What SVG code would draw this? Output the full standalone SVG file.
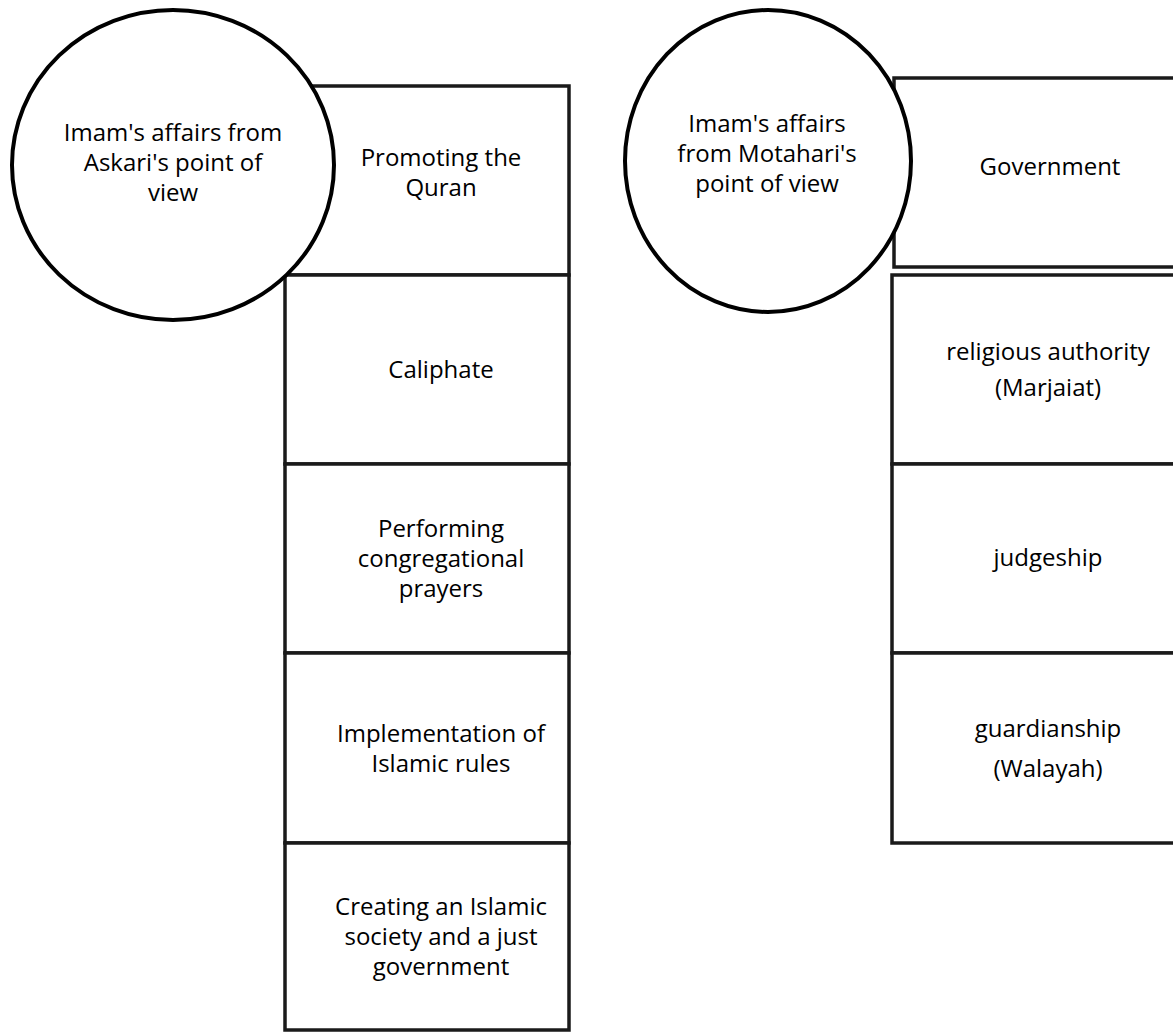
<svg xmlns="http://www.w3.org/2000/svg" width="1173" height="1032" viewBox="0 0 1173 1032">
<style>
.box{fill:#fff;stroke:#1a1a1a;stroke-width:3.5}
.circ{fill:#fff;stroke:#000;stroke-width:4}
text{font-family:"Open Sans","Noto Sans","Liberation Sans",sans-serif;font-size:24px;fill:#000;text-anchor:middle}
</style>
<rect width="1173" height="1032" fill="#fff"/>
<g id="connectors"></g>
<g id="promoting">
<rect class="box" x="285" y="86" width="284" height="189"/>
<text x="441" y="166">Promoting the</text>
<text x="441" y="196">Quran</text>
</g>
<g id="caliphate">
<rect class="box" x="285" y="275" width="284" height="189"/>
<text x="441" y="378">Caliphate</text>
</g>
<g id="prayers">
<rect class="box" x="285" y="464" width="284" height="189"/>
<text x="441" y="537">Performing</text>
<text x="441" y="567">congregational</text>
<text x="441" y="597">prayers</text>
</g>
<g id="implementation">
<rect class="box" x="285" y="653" width="284" height="190"/>
<text x="441" y="742">Implementation of</text>
<text x="441" y="772">Islamic rules</text>
</g>
<g id="society">
<rect class="box" x="285" y="843" width="284" height="187"/>
<text x="441" y="915">Creating an Islamic</text>
<text x="441" y="945">society and a just</text>
<text x="441" y="975">government</text>
</g>
<g id="askari">
<ellipse class="circ" cx="173" cy="165" rx="161" ry="155"/>
<text x="173" y="141">Imam's affairs from</text>
<text x="173" y="171">Askari's point of</text>
<text x="173" y="201">view</text>
</g>
<g id="government">
<rect class="box" x="894" y="78" width="300" height="189"/>
<text x="1050" y="175">Government</text>
</g>
<g id="marjaiat">
<rect class="box" x="892" y="275" width="300" height="189"/>
<text x="1048" y="360">religious authority</text>
<text x="1048" y="396">(Marjaiat)</text>
</g>
<g id="judgeship">
<rect class="box" x="892" y="464" width="300" height="189"/>
<text x="1048" y="566">judgeship</text>
</g>
<g id="walayah">
<rect class="box" x="892" y="653" width="300" height="190"/>
<text x="1048" y="737">guardianship</text>
<text x="1048" y="777">(Walayah)</text>
</g>
<g id="motahari">
<ellipse class="circ" cx="768" cy="161" rx="143" ry="151"/>
<text x="767" y="132">Imam's affairs</text>
<text x="767" y="162">from Motahari's</text>
<text x="767" y="192">point of view</text>
</g>
</svg>
